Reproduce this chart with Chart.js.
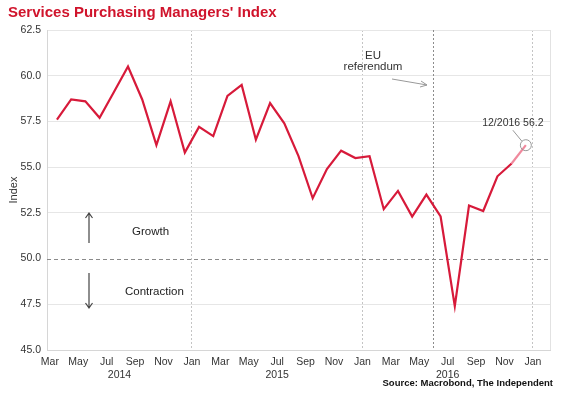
<!DOCTYPE html>
<html>
<head>
<meta charset="utf-8">
<title>Services Purchasing Managers' Index</title>
<style>
html,body{margin:0;padding:0;background:#fff;}
#wrap{width:564px;height:395px;}
</style>
</head>
<body>
<div id="wrap"><canvas id="pmi" width="564" height="395"></canvas></div>
<script src="https://cdn.jsdelivr.net/npm/chart.js@4.4.0/dist/chart.umd.min.js"></script>
<script>
// monthly PMI, Mar 2014 .. Dec 2016
var pmi = [57.6, 58.7, 58.6, 57.7, 59.1, 60.5, 58.7, 56.2, 58.6, 55.8,
           57.2, 56.7, 58.9, 59.5, 56.5, 58.5, 57.4, 55.6, 53.3, 54.9, 55.9, 55.5,
           55.6, 52.7, 53.7, 52.3, 53.5, 52.3, 47.4, 52.9, 52.6, 54.5, 55.2, 56.2];
// x axis is counted in months from the start of Mar 2014
var tickMonths = ['Mar','May','Jul','Sep','Nov','Jan','Mar','May','Jul','Sep','Nov','Jan',
                  'Mar','May','Jul','Sep','Nov','Jan'];
var years = ['2014', '2015', '2016'];
var yearPos = [4.9, 16, 28];
var janPos = [10, 22, 34];
var referendumPos = 27;
var lastLabel = '12/2016 56.2';

var FONT = "'Liberation Sans', Arial, sans-serif";

var points = pmi.map(function(v, i){ return {x: i + 0.5, y: v}; });
var last = points.length - 1;

var extras = {
	id: 'extras',
	beforeDatasetsDraw: function(chart){
		var c = chart.ctx, a = chart.chartArea;
		var xs = chart.scales.x, ys = chart.scales.y;
		c.save();
		// 50 line
		var y50 = Math.round(ys.getPixelForValue(50)) + 0.5;
		c.strokeStyle = '#8a8a8a';
		c.lineWidth = 1;
		c.setLineDash([4, 3]);
		c.beginPath(); c.moveTo(a.left, y50); c.lineTo(a.right, y50); c.stroke();
		// referendum
		var xr = Math.round(xs.getPixelForValue(referendumPos)) + 0.5;
		c.strokeStyle = '#8c8c8c';
		c.setLineDash([2, 2]);
		c.beginPath(); c.moveTo(xr, a.top); c.lineTo(xr, a.bottom); c.stroke();
		// right frame
		c.setLineDash([]);
		c.strokeStyle = '#e2e2e2';
		c.beginPath(); c.moveTo(a.right + 0.5, a.top); c.lineTo(a.right + 0.5, a.bottom); c.stroke();
		c.restore();
	},
	afterDraw: function(chart){
		var c = chart.ctx, xs = chart.scales.x, ys = chart.scales.y;
		c.save();
		// title
		c.fillStyle = '#d0142c';
		c.font = 'bold 15px ' + FONT;
		c.textAlign = 'left';
		c.textBaseline = 'alphabetic';
		c.fillText("Services Purchasing Managers' Index", 8, 17);

		// y title
		c.fillStyle = '#333';
		c.font = '11px ' + FONT;
		c.save();
		c.translate(14, 190);
		c.rotate(-Math.PI / 2);
		c.textAlign = 'center';
		c.textBaseline = 'middle';
		c.fillText('Index', 0, 0);
		c.restore();

		// years
		c.font = '10.5px ' + FONT;
		c.fillStyle = '#333';
		c.textAlign = 'center';
		c.textBaseline = 'middle';
		for (var i = 0; i < years.length; i++) {
			c.fillText(years[i], xs.getPixelForValue(yearPos[i]), 375);
		}

		// source
		c.font = 'bold 9.5px ' + FONT;
		c.fillStyle = '#111';
		c.textAlign = 'right';
		c.fillText('Source: Macrobond, The Independent', 553, 383);

		// growth / contraction
		c.font = '11.5px ' + FONT;
		c.fillStyle = '#222';
		c.textAlign = 'left';
		c.fillText('Growth', 132, 232);
		c.fillText('Contraction', 125, 292);

		c.strokeStyle = '#444';
		c.lineWidth = 1.2;
		c.beginPath();
		c.moveTo(89, 243); c.lineTo(89, 213);
		c.moveTo(85.5, 218); c.lineTo(89, 213); c.lineTo(92.5, 218);
		c.moveTo(89, 273); c.lineTo(89, 308);
		c.moveTo(85.5, 303); c.lineTo(89, 308); c.lineTo(92.5, 303);
		c.stroke();

		// EU referendum
		c.fillStyle = '#333';
		c.textAlign = 'center';
		c.fillText('EU', 373, 56);
		c.fillText('referendum', 373, 67);
		c.strokeStyle = '#999';
		c.lineWidth = 1;
		c.beginPath();
		c.moveTo(392, 79); c.lineTo(427, 85);
		c.moveTo(421, 81); c.lineTo(427, 85); c.lineTo(420, 87);
		c.stroke();

		// last point label
		var px = xs.getPixelForValue(points[last].x), py = ys.getPixelForValue(points[last].y);
		c.strokeStyle = '#999';
		c.beginPath();
		c.moveTo(px - 13, py - 15); c.lineTo(px - 4, py - 4);
		c.stroke();
		c.fillStyle = '#333';
		c.font = '10.5px ' + FONT;
		c.textAlign = 'center';
		c.fillText(lastLabel, px - 13, py - 22);
		c.restore();
	}
};

new Chart(document.getElementById('pmi'), {
	type: 'line',
	data: {
		datasets: [{
			data: points,
			borderColor: '#d71a3a',
			borderWidth: 2.2,
			segment: {
				borderColor: function(ctx){ return ctx.p1DataIndex === last ? '#f0899d' : '#d71a3a'; }
			},
			pointRadius: function(ctx){ return ctx.dataIndex === last ? 5.5 : 0; },
			pointBorderColor: '#9a9a9a',
			pointBackgroundColor: 'rgba(255,255,255,0)',
			pointBorderWidth: 1,
			tension: 0,
			fill: false
		}]
	},
	options: {
		responsive: false,
		animation: false,
		layout: {padding: {top: 30, right: 14, left: 0, bottom: 0}},
		plugins: {legend: {display: false}, tooltip: {enabled: false}, title: {display: false}},
		scales: {
			x: {
				type: 'linear',
				min: -0.2,
				max: 35.2,
				afterBuildTicks: function(scale){
					scale.ticks = tickMonths.map(function(m, i){ return {value: i * 2}; });
				},
				afterFit: function(scale){ scale.height = 45; },
				ticks: {
					autoSkip: false,
					maxRotation: 0,
					padding: 6,
					color: '#333',
					font: {family: FONT, size: 10.5},
					callback: function(v){ return tickMonths[v / 2]; }
				},
				grid: {
					drawTicks: false,
					color: function(ctx){
						return ctx.tick && janPos.indexOf(ctx.tick.value) >= 0 ? '#c4c4c4' : 'rgba(0,0,0,0)';
					}
				},
				border: {display: true, color: '#d6d6d6', dash: [2, 2]}
			},
			y: {
				min: 45,
				max: 62.5,
				afterFit: function(scale){ scale.width = 47; },
				ticks: {
					stepSize: 2.5,
					padding: 6,
					color: '#333',
					font: {family: FONT, size: 10.5},
					callback: function(v){ return v.toFixed(1); }
				},
				grid: {
					drawTicks: false,
					color: function(ctx){
						return ctx.tick && ctx.tick.value === 50 ? 'rgba(0,0,0,0)' : '#e6e6e6';
					}
				},
				border: {display: true, color: '#d6d6d6'}
			}
		}
	},
	plugins: [extras]
});
</script>
</body>
</html>
